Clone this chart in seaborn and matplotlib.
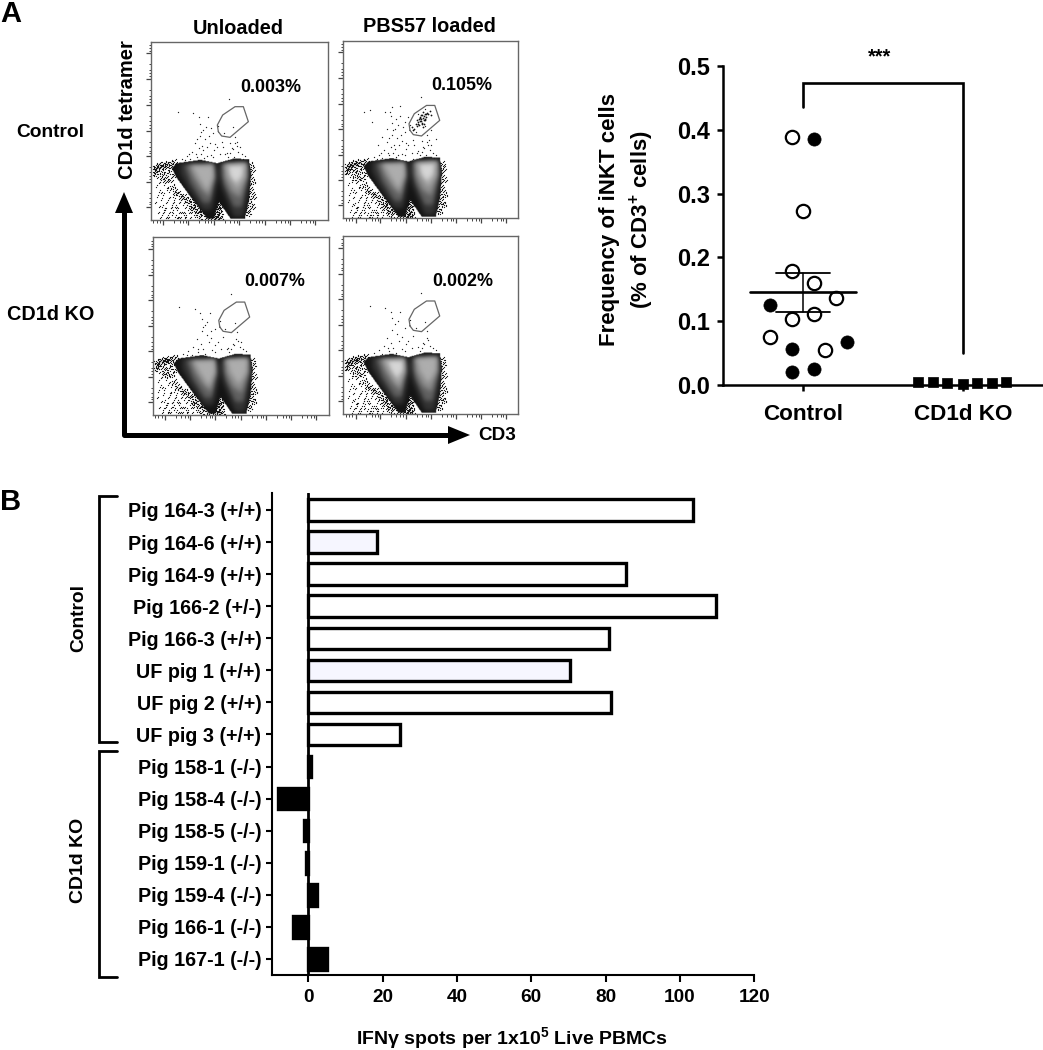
import matplotlib
matplotlib.use("Agg")
import matplotlib.pyplot as plt
from matplotlib.path import Path
import numpy as np
import seaborn as sns
import pandas as pd

# ---------- data ----------
pig_labels = ["Pig 164-3 (+/+)", "Pig 164-6 (+/+)", "Pig 164-9 (+/+)", "Pig 166-2 (+/-)",
              "Pig 166-3 (+/+)", "UF pig 1 (+/+)", "UF pig 2 (+/+)", "UF pig 3 (+/+)",
              "Pig 158-1 (-/-)", "Pig 158-4 (-/-)", "Pig 158-5 (-/-)", "Pig 159-1 (-/-)",
              "Pig 159-4 (-/-)", "Pig 166-1 (-/-)", "Pig 167-1 (-/-)"]
pig_values = [103.6, 18.6, 85.6, 109.6, 80.9, 70.5, 81.4, 24.8,
              0.7, -8.2, -1.1, -0.6, 2.4, -4.1, 5.1]
pig_fills = ["#ffffff", "#f6f6ff", "#ffffff", "#ffffff", "#ffffff", "#f6f6ff", "#ffffff", "#ffffff",
             "#000000", "#000000", "#000000", "#000000", "#000000", "#000000", "#000000"]

open_x = [-0.069, 0.0, -0.069, 0.069, 0.206, 0.069, -0.069, -0.206, 0.138]
open_y = [0.389, 0.273, 0.178, 0.160, 0.137, 0.112, 0.103, 0.076, 0.055]
filled_x = [0.069, -0.206, 0.275, -0.069, 0.069, -0.069]
filled_y = [0.386, 0.126, 0.068, 0.056, 0.0245, 0.021]
ko_x = [0.72, 0.81, 0.90, 1.0, 1.09, 1.18, 1.27]
ko_y = [0.004, 0.004, 0.003, 0.002, 0.003, 0.003, 0.004]
mean_val, sem_hi, sem_lo = 0.145, 0.175, 0.114

panel_names = ["0.003%", "0.105%", "0.007%", "0.002%"]
gate_x = [655, 652, 668, 705, 730, 745, 690, 665, 655]
gate_y = [395, 375, 345, 320, 320, 365, 412, 408, 395]

outer_x = [530, 600, 650, 700, 745, 752, 746, 733, 690, 655, 640, 620, 570, 530, 515]
outer_y = [490, 480, 490, 476, 478, 520, 600, 655, 655, 605, 655, 655, 590, 535, 505]
left_lobe = [
    ([540, 645, 650, 634, 608, 565, 540], [490, 486, 540, 630, 630, 565, 520]),
    ([552, 642, 646, 630, 608, 572], [494, 490, 535, 608, 608, 550]),
    ([565, 640, 643, 626, 604, 578], [494, 492, 530, 590, 570, 530]),
    ([575, 638, 640, 620, 596], [497, 496, 530, 572, 535]),
    ([588, 634, 634, 614, 598], [500, 500, 528, 552, 528]),
]
right_lobe = [
    ([660, 744, 749, 729, 700, 665, 653], [488, 482, 520, 650, 650, 565, 515]),
    ([664, 742, 745, 724, 700, 668], [490, 485, 530, 620, 620, 550]),
    ([668, 740, 741, 718, 692, 670], [490, 487, 530, 592, 575, 530]),
    ([675, 736, 734, 710, 685], [492, 490, 530, 568, 530]),
    ([685, 728, 724, 704, 688], [497, 497, 530, 548, 525]),
]
level_greys = [0.08, 0.20, 0.38, 0.55, 0.68, 0.84]
panel_left_levels = [4, 4, 4, 5]
panel_right_levels = [5, 5, 4, 4]
panel_speck_count = [62, 78, 50, 44]

speck_x = [688, 533, 580, 600, 625, 610, 640, 585, 598, 616, 632, 655, 672, 700, 705, 695, 710, 690,
           603, 622, 575, 590, 612, 640, 660, 680, 715, 725, 735, 560, 570, 545, 600, 650, 665, 630,
           618, 596, 642, 706, 698, 684, 612, 588, 604, 628, 676, 720, 540, 555, 566, 610, 644, 690,
           702, 620, 606, 590, 634, 668, 728, 712, 540, 515, 650, 625, 595, 585, 570, 612, 640, 678,
           700, 720, 735, 558, 600, 665]
speck_y = [296, 335, 340, 372, 352, 390, 400, 430, 445, 418, 465, 378, 400, 382, 430, 445, 438, 460,
           462, 440, 455, 470, 475, 470, 462, 458, 455, 462, 468, 468, 478, 476, 408, 440, 425, 428,
           380, 352, 450, 410, 448, 470, 482, 462, 395, 408, 462, 440, 488, 480, 462, 450, 432, 428,
           470, 468, 438, 418, 385, 440, 478, 425, 370, 340, 355, 322, 340, 390, 415, 360, 370, 345,
           330, 395, 420, 440, 325, 480]
noise_x = [465, 472, 480, 468, 476, 487, 495, 470, 483, 492, 502, 510, 466, 478, 488, 498, 508, 518,
           473, 485, 496, 506, 516, 526, 480, 490, 500, 512, 522, 534, 486, 498, 508, 520, 532, 544,
           505, 516, 528, 540, 552, 512, 524, 536, 548, 560, 530, 542, 554, 566, 578, 540, 552, 564,
           576, 588, 555, 568, 580, 592, 604, 570, 582, 594, 606, 585, 598, 610, 622, 475, 492, 510,
           468, 485, 503, 522, 462, 478, 500, 518, 538, 482, 505, 526, 548, 492, 515, 535, 556, 574,
           642, 650, 656, 646, 652, 660, 644, 655, 648, 662, 640, 658, 752, 756, 750, 758, 747, 753,
           743, 749, 738, 745, 760, 757, 465, 470, 478, 486, 494, 502, 512, 522]
noise_y = [520, 535, 545, 560, 575, 530, 540, 590, 600, 555, 565, 540, 610, 622, 585, 610, 575, 560,
           640, 645, 630, 595, 615, 575, 655, 640, 650, 625, 600, 580, 620, 655, 640, 610, 630, 590,
           655, 645, 625, 605, 590, 625, 650, 640, 615, 600, 655, 640, 625, 610, 600, 655, 645, 630,
           620, 610, 650, 640, 625, 630, 615, 655, 645, 640, 630, 650, 655, 640, 650, 498, 500, 505,
           510, 515, 520, 525, 528, 550, 570, 590, 610, 580, 600, 620, 640, 630, 635, 655, 655, 640,
           610, 620, 630, 640, 650, 640, 625, 605, 655, 655, 650, 620, 495, 510, 530, 545, 560, 575,
           595, 610, 630, 640, 590, 620, 500, 505, 493, 497, 490, 494, 488, 486]
noise_dx = [0, 3, -4, 6, -7, 2, 5, -2, -6, 8]
noise_dy = [0, -5, 4, 3, -3, 7, -8, -2, 6, 1]
cluster_x = [693, 688, 698, 684, 702, 690, 696, 680, 706, 675, 686, 700, 692, 678, 710, 683, 694, 668,
             704, 689, 697, 672, 715, 681, 699, 665, 720, 660, 695, 687, 691, 684, 701, 677]
cluster_y = [358, 362, 352, 368, 346, 372, 365, 375, 342, 382, 355, 360, 350, 370, 345, 380, 340, 390,
             355, 366, 376, 375, 338, 360, 345, 395, 350, 385, 385, 348, 375, 358, 365, 365]
flow_major_x = [490, 565, 642, 718, 795, 870, 945]
flow_major_y = [160, 238, 315, 392, 468, 545, 620]

# ---------- setup ----------
sns.set_theme(style="ticks", rc={"text.color": "black", "axes.labelcolor": "black", "xtick.color": "black",
                                 "ytick.color": "black", "axes.edgecolor": "black"})
plt.rcParams["font.family"] = ["Liberation Sans", "DejaVu Sans"]
plt.rcParams["font.weight"] = "bold"
plt.rcParams["mathtext.default"] = "regular"
W, H = 1043, 1050
fig = plt.figure(figsize=(W / 100, H / 100), dpi=100, facecolor="white")


def axpx(l, t, r, b, **kw):
    return fig.add_axes([l / W, 1 - b / H, (r - l) / W, (b - t) / H], **kw)


# density raster of a flow panel, built from the outlines read above
gx = np.arange(453, 983, 2.0)
gy = np.arange(125, 660, 2.0)
mx, my = np.meshgrid(gx, gy)
grid_pts = np.column_stack([mx.ravel(), my.ravel()])
kern = np.exp(-0.5 * (np.arange(-12, 13) / 3.5) ** 2)
kern /= kern.sum()


def inside(px, py):
    return Path(np.column_stack([px, py])).contains_points(grid_pts).reshape(mx.shape)


def smooth(a):
    a = np.apply_along_axis(lambda r: np.convolve(r, kern, mode="same"), 0, a)
    return np.apply_along_axis(lambda r: np.convolve(r, kern, mode="same"), 1, a)


outer_mask = inside(outer_x, outer_y)


def panel_density(nl, nr):
    lev = np.zeros(mx.shape)
    for lobe, n in ((left_lobe, nl), (right_lobe, nr)):
        for lx, ly in lobe[:n]:
            lev += inside(lx, ly).astype(float)
    shade = np.interp(smooth(lev), range(6), level_greys)
    return np.ma.masked_where(~outer_mask, shade)


# ---------- flow panels ----------
boxes = [(151, 41.7, 327.7, 220), (343.3, 40.7, 518.3, 218.3),
         (152.7, 237.3, 328.7, 415), (343.3, 236, 518.3, 414.3)]
dense_x, dense_y = [], []
for x, y in zip(noise_x, noise_y):
    near_band = (y - 490) < 1.05 * (x - 460) + 25 or x >= 640
    for dx, dy in list(zip(noise_dx, noise_dy))[:(10 if near_band else 2)]:
        dense_x.append(x + dx)
        dense_y.append(y + dy)
for i, box in enumerate(boxes):
    ax = axpx(*box)
    for s in ax.spines.values():
        s.set_color("#666666")
        s.set_linewidth(1.0)
    ax.imshow(panel_density(panel_left_levels[i], panel_right_levels[i]), cmap="gray", vmin=0, vmax=1,
              extent=(453, 983, 660, 125), aspect="auto", interpolation="bilinear", zorder=1)
    ax.set_xlim(453, 983)
    ax.set_ylim(660, 125)
    ax.set_xticks(flow_major_x)
    ax.set_yticks(flow_major_y)
    ax.set_xticks([v + d for v in flow_major_x[:-1] for d in (33, 49, 60, 68)] + [460, 470, 480], minor=True)
    ax.set_yticks([v + d for v in flow_major_y[:-1] for d in (33, 49, 60, 68)] + [135, 145, 152], minor=True)
    ax.tick_params(which="major", length=3.5, width=0.9, color="#444444", labelbottom=False, labelleft=False, bottom=True, left=True)
    ax.tick_params(which="minor", length=1.8, width=0.7, color="#444444", bottom=True, left=True)
    n = panel_speck_count[i]
    sns.scatterplot(x=speck_x[:n], y=speck_y[:n], s=0.9, color="#222222", linewidth=0, ax=ax, zorder=3)
    sns.scatterplot(x=dense_x, y=dense_y, s=0.8, color="#111111", linewidth=0, ax=ax, zorder=0.5)
    if i == 1:
        sns.scatterplot(x=cluster_x, y=cluster_y, s=1.6, color="#111111", linewidth=0, ax=ax, zorder=3)
    ax.plot(gate_x, gate_y, color="#666666", lw=0.9, zorder=4)

# ---------- scatter panel ----------
ax2 = axpx(723, 66, 1043, 385)
ax2.set_xlim(-0.5, 1.5)
ax2.set_ylim(0, 0.5)
ax2.set_facecolor("none")
sns.scatterplot(x=open_x, y=open_y, s=92, color="white", edgecolor="black", linewidth=1.6, ax=ax2, zorder=3, clip_on=False)
sns.scatterplot(x=filled_x, y=filled_y, s=90, color="black", edgecolor="black", linewidth=0.5, ax=ax2, zorder=3, clip_on=False)
sns.scatterplot(x=ko_x, y=ko_y, s=62, marker="s", color="black", edgecolor="black", linewidth=0.5, ax=ax2, zorder=3, clip_on=False)
ax2.plot([-1 / 3, 1 / 3], [mean_val, mean_val], color="black", lw=1.9, zorder=4)
ax2.plot([0, 0], [sem_lo, sem_hi], color="black", lw=1.1, zorder=4)
for v in (sem_lo, sem_hi):
    ax2.plot([-0.17, 0.17], [v, v], color="black", lw=1.3, zorder=4)
ax2.plot([0, 0, 1, 1], [0.436, 0.473, 0.473, 0.05], color="black", lw=1.9, clip_on=False, solid_joinstyle="miter")
sns.despine(ax=ax2)
for s in ("left", "bottom"):
    ax2.spines[s].set_linewidth(1.8)
ax2.set_xticks([0, 1], ["Control", "CD1d KO"])
ax2.set_yticks([0, 0.1, 0.2, 0.3, 0.4, 0.5], ["0.0", "0.1", "0.2", "0.3", "0.4", "0.5"])
ax2.tick_params(axis="y", length=4.5, width=1.8, labelsize=17, pad=5)
ax2.tick_params(axis="x", length=4.5, width=1.8, labelsize=16.2, pad=9)

# ---------- bar panel ----------
ax3 = axpx(271.7, 493, 754.3, 975)
df = pd.DataFrame({"pig": pig_labels, "spots": pig_values})
sns.barplot(data=df, y="pig", x="spots", hue="pig", order=pig_labels, hue_order=pig_labels,
            palette=dict(zip(pig_labels, pig_fills)), dodge=False, width=0.67, edgecolor="black",
            linewidth=2.4, legend=False, ax=ax3, saturation=1, zorder=3)
ax3.set_xlim(-9.85, 120)
ax3.set_ylim(14.5, -0.53)
ax3.axvline(0, color="black", lw=2.0, zorder=4)
sns.despine(ax=ax3)
for s in ("left", "bottom"):
    ax3.spines[s].set_linewidth(1.5)
ax3.set_xlabel("")
ax3.set_ylabel("")
ax3.set_xticks([0, 20, 40, 60, 80, 100, 120])
ax3.tick_params(axis="x", length=5, width=1.5, labelsize=13.7, pad=5)
ax3.tick_params(axis="y", length=4.5, width=1.5, labelsize=14.2, pad=3)

# ---------- annotation layer ----------
ov = fig.add_axes([0, 0, 1, 1], facecolor="none")
ov.set_xlim(0, W)
ov.set_ylim(H, 0)
ov.axis("off")


def t(x, y, s, size, **kw):
    ov.text(x, y, s, fontsize=size, fontweight="bold", ha=kw.pop("ha", "center"), va=kw.pop("va", "center"), color="black", **kw)


t(0, 14, "A", 21, ha="left")
t(0, 502, "B", 21, ha="left")
t(238, 28.5, "Unloaded", 14.3)
t(429, 27, "PBS57 loaded", 14.3)
t(50, 132.5, "Control", 13.8)
t(51, 314.5, "CD1d KO", 14.3)
t(127.5, 110, "CD1d tetramer", 14.5, rotation=90)
t(497, 436, "CD3", 13.6)
for (px, py), s in zip([(271, 88), (462, 86), (275, 281), (463, 281)], panel_names):
    t(px, py, s, 12.9)
t(609.5, 220, "Frequency of iNKT cells", 16, rotation=90)
t(642, 220, "(% of CD3$^{+}$ cells)", 16, rotation=90)
t(880, 57, "***", 14.5)
t(78.5, 617.5, "Control", 13.8, rotation=90)
t(78.5, 860, "CD1d KO", 14, rotation=90)
t(512, 1038, "IFNγ spots per 1x10$^{5}$ Live PBMCs", 14)

# axes arrows of the flow panels
ov.plot([124, 124, 450], [200, 435, 435], color="black", lw=3.6, solid_joinstyle="round", solid_capstyle="butt")
ov.fill([115, 133, 124], [213, 213, 192], color="black", lw=0)
ov.fill([448, 448, 470], [426, 444, 435], color="black", lw=0)
# group brackets of the bar panel
ov.plot([117, 99, 99, 117], [496, 496, 742, 742], color="black", lw=2.0, solid_joinstyle="miter")
ov.plot([117, 99, 99, 117], [751, 751, 977, 977], color="black", lw=2.0, solid_joinstyle="miter")

fig.savefig("out.png", dpi=100)
